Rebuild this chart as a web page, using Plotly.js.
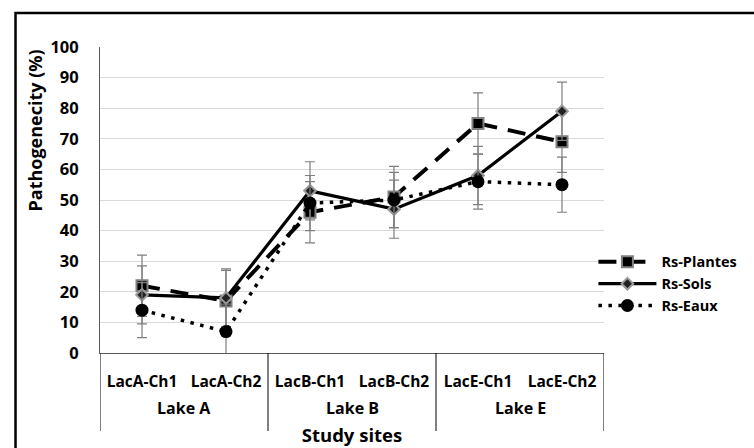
<!DOCTYPE html>
<html>
<head>
<meta charset="utf-8">
<script src="https://cdn.plot.ly/plotly-3.0.1.min.js"></script>
<style>
html,body{margin:0;padding:0;background:#fff;}
#chart{width:754px;height:448px;}
</style>
</head>
<body>
<div id="chart"></div>
<script>
var lakes = ["Lake A","Lake A","Lake B","Lake B","Lake E","Lake E"];
var sites = ["LacA-Ch1","LacA-Ch2","LacB-Ch1","LacB-Ch2","LacE-Ch1","LacE-Ch2"];
var plantes = [22, 17, 46, 51, 75, 69];
var sols = [19, 18, 53, 47, 58, 79];
var eaux = [14, 7, 49, 50, 56, 55];
var errPlantes = [10, 10, 10, 10, 10, 10];
var errSols = [9.5, 9.5, 9.5, 9.5, 9.5, 9.5];
var errEaux = [9, 9, 9, 9, 9, 9];
var yTicks = [0,10,20,30,40,50,60,70,80,90,100];

var FONT = "'Open Sans', Lato, sans-serif";
var MT = 47, PLOT_H = 306, PLOT_W = 531; // plot area size in px
var errStyle = function(arr){ return {type:'data', array:arr, visible:true, color:'#7f7f7f', thickness:1.2, width:5}; };

var traces = [
  {x:sites, y:plantes, name:'Rs-Plantes', type:'scatter', mode:'lines+markers',
   line:{color:'#000', width:4, dash:'18px,11px'},
   marker:{symbol:'square', size:11, color:'#000', line:{color:'#808080', width:2}},
   error_y:errStyle(errPlantes)},
  {x:sites, y:sols, name:'Rs-Sols', type:'scatter', mode:'lines+markers',
   line:{color:'#000', width:3.2},
   marker:{symbol:'diamond', size:9, color:'#222', line:{color:'#9a9a9a', width:2}},
   error_y:errStyle(errSols)},
  {x:sites, y:eaux, name:'Rs-Eaux', type:'scatter', mode:'lines+markers',
   line:{color:'#000', width:3.5, dash:'3.5px,6.5px'},
   marker:{symbol:'circle', size:13, color:'#000'},
   error_y:errStyle(errEaux)}
];

// group labels and dividers built from the lakes array
var groups = [];
lakes.forEach(function(l, i){
  var g = groups[groups.length-1];
  if(!g || g.name !== l){ groups.push({name:l, start:i, end:i}); } else { g.end = i; }
});
var annotations = groups.map(function(g){
  return {text:g.name, xref:'x', yref:'paper', x:(g.start+g.end)/2, y:-55/PLOT_H, yanchor:'middle',
          showarrow:false, font:{family:FONT, size:16, weight:'bold', color:'#000'}};
});
annotations.push({text:'Pathogenecity (%)', xref:'paper', yref:'paper', x:-69/PLOT_W, y:(PLOT_H-(131-MT))/PLOT_H,
          xanchor:'center', yanchor:'middle', textangle:-90, showarrow:false,
          font:{family:FONT, size:18, weight:'bold', color:'#000'}});
var bounds = groups.map(function(g){ return g.start-0.5; });
bounds.push(groups[groups.length-1].end+0.5);
var shapes = bounds.map(function(b){
  return {type:'line', xref:'x', yref:'paper', x0:b, x1:b, y0:0, y1:-78/PLOT_H, line:{color:'#000', width:1}};
});
shapes.push({type:'rect', xref:'paper', yref:'paper', x0:-89/PLOT_W, x1:760/PLOT_W, y0:-110/PLOT_H, y1:(PLOT_H+MT-13)/PLOT_H,
     line:{color:'#000', width:2.5}, fillcolor:'rgba(0,0,0,0)', layer:'below'});

var layout = {
  width:754, height:448,
  margin:{l:100, r:123, t:MT, b:95},
  paper_bgcolor:'#fff', plot_bgcolor:'#fff',
  font:{family:FONT, color:'#000'},
  showlegend:true,
  legend:{x:0.979, xanchor:'left', y:0.35, yanchor:'top', font:{family:FONT, size:14.5, weight:'bold', color:'#000'},
          bgcolor:'rgba(0,0,0,0)', itemwidth:58, tracegroupgap:0},
  xaxis:{type:'category', range:[-0.5, sites.length-0.5], showline:true, linecolor:'#595959', linewidth:1.2,
         showgrid:false, ticks:'', ticklabelstandoff:14,
         tickfont:{family:FONT, size:15.5, weight:'bold', color:'#000'},
         title:{text:'Study sites', font:{family:FONT, size:18.5, weight:'bold', color:'#000'}, standoff:38}},
  yaxis:{range:[0,100], tickvals:yTicks, ticktext:yTicks.map(String), showline:true, linecolor:'#595959', linewidth:1,
         gridcolor:'#d9d9d9', gridwidth:1, zeroline:false, ticks:'', ticklabelstandoff:17,
         tickfont:{family:FONT, size:16.5, weight:'bold', color:'#000'}},
  annotations:annotations,
  shapes:shapes
};

Plotly.newPlot('chart', traces, layout, {displayModeBar:false, staticPlot:true});
</script>
</body>
</html>
